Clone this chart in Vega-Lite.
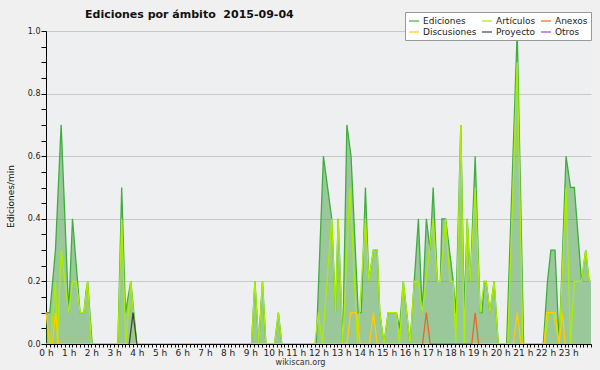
{
  "$schema": "https://vega.github.io/schema/vega-lite/v6.json",
  "width": 545,
  "height": 313,
  "autosize": {"type": "none"},
  "padding": {"left": 46, "top": 31, "right": 9, "bottom": 26},
  "background": "#f0f0f0",
  "config": {
    "view": {"stroke": null, "fill": "#eeeff1"},
    "font": "DejaVu Sans",
    "title": {"dx": 39}
  },
  "title": {
    "text": "Ediciones por ámbito\u00a0 2015-09-04",
    "anchor": "start",
    "frame": "group",
    "dx": 39,
    "fontSize": 11,
    "fontWeight": "bold",
    "color": "#111111",
    "baseline": "alphabetic",
    "offset": -17
  },
  "datasets": {
    "series": [
      {"serie":"Ediciones","min":0,"v":0.1},{"serie":"Ediciones","min":10,"v":0.1},{"serie":"Ediciones","min":25,"v":0.3},{"serie":"Ediciones","min":40,"v":0.7},{"serie":"Ediciones","min":60,"v":0.1},{"serie":"Ediciones","min":70,"v":0.4},{"serie":"Ediciones","min":90,"v":0.1},{"serie":"Ediciones","min":100,"v":0.1},{"serie":"Ediciones","min":106,"v":0.17},{"serie":"Ediciones","min":110,"v":0.2},{"serie":"Ediciones","min":122,"v":0},
      {"serie":"Ediciones","min":190,"v":0},{"serie":"Ediciones","min":200,"v":0.5},{"serie":"Ediciones","min":210,"v":0.1},{"serie":"Ediciones","min":224,"v":0.2},{"serie":"Ediciones","min":240,"v":0},
      {"serie":"Ediciones","min":543,"v":0},{"serie":"Ediciones","min":552,"v":0.2},{"serie":"Ediciones","min":562,"v":0},{"serie":"Ediciones","min":572,"v":0.2},{"serie":"Ediciones","min":581,"v":0},{"serie":"Ediciones","min":604,"v":0},{"serie":"Ediciones","min":614,"v":0.1},{"serie":"Ediciones","min":623,"v":0},
      {"serie":"Ediciones","min":714,"v":0},{"serie":"Ediciones","min":733,"v":0.6},{"serie":"Ediciones","min":755,"v":0.4},{"serie":"Ediciones","min":765,"v":0.1},{"serie":"Ediciones","min":772,"v":0.4},{"serie":"Ediciones","min":784,"v":0},{"serie":"Ediciones","min":795,"v":0.7},{"serie":"Ediciones","min":806,"v":0.6},{"serie":"Ediciones","min":825,"v":0.1},{"serie":"Ediciones","min":833,"v":0.1},{"serie":"Ediciones","min":844,"v":0.5},{"serie":"Ediciones","min":853,"v":0.2},{"serie":"Ediciones","min":865,"v":0.3},{"serie":"Ediciones","min":875,"v":0.3},{"serie":"Ediciones","min":882,"v":0.1},{"serie":"Ediciones","min":893,"v":0},{"serie":"Ediciones","min":904,"v":0.1},{"serie":"Ediciones","min":926,"v":0.1},{"serie":"Ediciones","min":934,"v":0.05},{"serie":"Ediciones","min":944,"v":0.2},{"serie":"Ediciones","min":962,"v":0},{"serie":"Ediciones","min":973,"v":0.2},{"serie":"Ediciones","min":984,"v":0.4},{"serie":"Ediciones","min":994,"v":0.1},{"serie":"Ediciones","min":1005,"v":0.4},{"serie":"Ediciones","min":1015,"v":0.3},{"serie":"Ediciones","min":1023,"v":0.5},{"serie":"Ediciones","min":1034,"v":0.2},{"serie":"Ediciones","min":1042,"v":0.2},{"serie":"Ediciones","min":1046,"v":0.4},{"serie":"Ediciones","min":1056,"v":0.4},{"serie":"Ediciones","min":1076,"v":0.2},{"serie":"Ediciones","min":1083,"v":0.1},{"serie":"Ediciones","min":1096,"v":0.7},{"serie":"Ediciones","min":1105,"v":0.1},{"serie":"Ediciones","min":1113,"v":0.4},{"serie":"Ediciones","min":1121,"v":0.2},{"serie":"Ediciones","min":1134,"v":0.6},{"serie":"Ediciones","min":1147,"v":0.1},{"serie":"Ediciones","min":1152,"v":0.1},{"serie":"Ediciones","min":1158,"v":0.2},{"serie":"Ediciones","min":1163,"v":0.2},{"serie":"Ediciones","min":1173,"v":0.1},{"serie":"Ediciones","min":1184,"v":0.2},{"serie":"Ediciones","min":1195,"v":0},
      {"serie":"Ediciones","min":1217,"v":0},{"serie":"Ediciones","min":1245,"v":1.0},{"serie":"Ediciones","min":1262,"v":0},
      {"serie":"Ediciones","min":1314,"v":0},{"serie":"Ediciones","min":1325,"v":0.2},{"serie":"Ediciones","min":1334,"v":0.3},{"serie":"Ediciones","min":1345,"v":0.3},{"serie":"Ediciones","min":1356,"v":0},{"serie":"Ediciones","min":1374,"v":0.6},{"serie":"Ediciones","min":1386,"v":0.5},{"serie":"Ediciones","min":1396,"v":0.5},{"serie":"Ediciones","min":1415,"v":0.2},{"serie":"Ediciones","min":1426,"v":0.3},{"serie":"Ediciones","min":1435,"v":0.2},{"serie":"Ediciones","min":1440,"v":0.2},

      {"serie":"Artículos","min":0,"v":0},{"serie":"Artículos","min":12,"v":0},{"serie":"Artículos","min":25,"v":0.2},{"serie":"Artículos","min":30,"v":0},{"serie":"Artículos","min":40,"v":0.3},{"serie":"Artículos","min":60,"v":0.1},{"serie":"Artículos","min":70,"v":0.2},{"serie":"Artículos","min":80,"v":0.2},{"serie":"Artículos","min":90,"v":0.1},{"serie":"Artículos","min":100,"v":0.1},{"serie":"Artículos","min":110,"v":0.2},{"serie":"Artículos","min":120,"v":0},
      {"serie":"Artículos","min":190,"v":0},{"serie":"Artículos","min":200,"v":0.4},{"serie":"Artículos","min":211,"v":0},{"serie":"Artículos","min":224,"v":0.2},{"serie":"Artículos","min":238,"v":0},
      {"serie":"Artículos","min":543,"v":0},{"serie":"Artículos","min":552,"v":0.2},{"serie":"Artículos","min":562,"v":0},{"serie":"Artículos","min":572,"v":0.2},{"serie":"Artículos","min":581,"v":0},{"serie":"Artículos","min":604,"v":0},{"serie":"Artículos","min":614,"v":0.1},{"serie":"Artículos","min":623,"v":0},
      {"serie":"Artículos","min":710,"v":0},{"serie":"Artículos","min":720,"v":0.1},{"serie":"Artículos","min":730,"v":0},{"serie":"Artículos","min":755,"v":0.4},{"serie":"Artículos","min":765,"v":0.1},{"serie":"Artículos","min":772,"v":0.4},{"serie":"Artículos","min":784,"v":0},{"serie":"Artículos","min":803,"v":0.5},{"serie":"Artículos","min":823,"v":0},{"serie":"Artículos","min":844,"v":0.4},{"serie":"Artículos","min":853,"v":0.2},{"serie":"Artículos","min":865,"v":0.3},{"serie":"Artículos","min":875,"v":0.3},{"serie":"Artículos","min":882,"v":0.1},{"serie":"Artículos","min":893,"v":0},{"serie":"Artículos","min":904,"v":0.1},{"serie":"Artículos","min":926,"v":0.1},{"serie":"Artículos","min":934,"v":0},{"serie":"Artículos","min":944,"v":0.2},{"serie":"Artículos","min":962,"v":0},{"serie":"Artículos","min":973,"v":0.2},{"serie":"Artículos","min":984,"v":0.2},{"serie":"Artículos","min":994,"v":0.1},{"serie":"Artículos","min":1023,"v":0.4},{"serie":"Artículos","min":1034,"v":0.2},{"serie":"Artículos","min":1042,"v":0.2},{"serie":"Artículos","min":1056,"v":0.4},{"serie":"Artículos","min":1067,"v":0.2},{"serie":"Artículos","min":1076,"v":0.2},{"serie":"Artículos","min":1083,"v":0},{"serie":"Artículos","min":1096,"v":0.7},{"serie":"Artículos","min":1105,"v":0},{"serie":"Artículos","min":1113,"v":0.4},{"serie":"Artículos","min":1121,"v":0.2},{"serie":"Artículos","min":1134,"v":0.5},{"serie":"Artículos","min":1147,"v":0.1},{"serie":"Artículos","min":1158,"v":0.2},{"serie":"Artículos","min":1163,"v":0.2},{"serie":"Artículos","min":1173,"v":0.1},{"serie":"Artículos","min":1184,"v":0.2},{"serie":"Artículos","min":1195,"v":0},
      {"serie":"Artículos","min":1220,"v":0},{"serie":"Artículos","min":1245,"v":0.9},{"serie":"Artículos","min":1260,"v":0},
      {"serie":"Artículos","min":1318,"v":0},{"serie":"Artículos","min":1328,"v":0.1},{"serie":"Artículos","min":1340,"v":0.1},{"serie":"Artículos","min":1356,"v":0},{"serie":"Artículos","min":1374,"v":0.5},{"serie":"Artículos","min":1386,"v":0},{"serie":"Artículos","min":1396,"v":0.2},{"serie":"Artículos","min":1415,"v":0.2},{"serie":"Artículos","min":1426,"v":0.3},{"serie":"Artículos","min":1435,"v":0.2},{"serie":"Artículos","min":1440,"v":0.2},

      {"serie":"Discusiones","min":0,"v":0.1},{"serie":"Discusiones","min":10,"v":0},{"serie":"Discusiones","min":17,"v":0},{"serie":"Discusiones","min":25,"v":0.1},{"serie":"Discusiones","min":33,"v":0},{"serie":"Discusiones","min":795,"v":0},{"serie":"Discusiones","min":805,"v":0.1},{"serie":"Discusiones","min":820,"v":0.1},{"serie":"Discusiones","min":830,"v":0},{"serie":"Discusiones","min":855,"v":0},{"serie":"Discusiones","min":865,"v":0.1},{"serie":"Discusiones","min":875,"v":0},{"serie":"Discusiones","min":1235,"v":0},{"serie":"Discusiones","min":1245,"v":0.1},{"serie":"Discusiones","min":1255,"v":0},{"serie":"Discusiones","min":1316,"v":0},{"serie":"Discusiones","min":1323,"v":0.1},{"serie":"Discusiones","min":1345,"v":0.1},{"serie":"Discusiones","min":1356,"v":0},{"serie":"Discusiones","min":1364,"v":0.1},{"serie":"Discusiones","min":1372,"v":0},

      {"serie":"Anexos","min":995,"v":0},{"serie":"Anexos","min":1005,"v":0.1},{"serie":"Anexos","min":1015,"v":0},{"serie":"Anexos","min":1125,"v":0},{"serie":"Anexos","min":1134,"v":0.1},{"serie":"Anexos","min":1143,"v":0},

      {"serie":"Proyecto","min":220,"v":0},{"serie":"Proyecto","min":230,"v":0.1},{"serie":"Proyecto","min":240,"v":0}
    ]
  },
  "data": {"name": "series"},
  "encoding": {
    "x": {
      "field": "min",
      "type": "quantitative",
      "scale": {"domain": [0, 1440], "nice": false, "zero": false},
      "axis": {
        "values": [0,10,20,30,40,50,60,70,80,90,100,110,120,130,140,150,160,170,180,190,200,210,220,230,240,250,260,270,280,290,300,310,320,330,340,350,360,370,380,390,400,410,420,430,440,450,460,470,480,490,500,510,520,530,540,550,560,570,580,590,600,610,620,630,640,650,660,670,680,690,700,710,720,730,740,750,760,770,780,790,800,810,820,830,840,850,860,870,880,890,900,910,920,930,940,950,960,970,980,990,1000,1010,1020,1030,1040,1050,1060,1070,1080,1090,1100,1110,1120,1130,1140,1150,1160,1170,1180,1190,1200,1210,1220,1230,1240,1250,1260,1270,1280,1290,1300,1310,1320,1330,1340,1350,1360,1370,1380,1390,1400,1410,1420,1430,1440],
        "labelExpr": "(datum.value % 60 == 0 && datum.value < 1440) ? (datum.value / 60) + ' h' : ''",
        "labelOverlap": false,
        "labelFlush": false,
        "labelBound": false,
        "labelFontSize": 9,
        "labelColor": "#222222",
        "labelPadding": 1,
        "tickSize": 3,
        "tickColor": "#000000",
        "domainColor": "#000000",
        "grid": false,
        "zindex": 1,
        "title": "wikiscan.org",
        "titleFontSize": 8,
        "titleFontWeight": "normal",
        "titleColor": "#333333",
        "titleX": 254,
        "titleY": 20,
        "titleAlign": "center",
        "titleBaseline": "alphabetic"
      }
    },
    "y": {
      "field": "v",
      "type": "quantitative",
      "scale": {"domain": [0, 1], "nice": false},
      "axis": {
        "values": [0,0.05,0.1,0.15,0.2,0.25,0.3,0.35,0.4,0.45,0.5,0.55,0.6,0.65,0.7,0.75,0.8,0.85,0.9,0.95,1.0],
        "labelExpr": "round(datum.value*20) % 4 == 0 ? format(datum.value, '.1f') : ''",
        "labelFontSize": 8,
        "labelColor": "#222222",
        "labelPadding": 1,
        "tickSize": 5,
        "tickColor": "#000000",
        "domainColor": "#000000",
        "grid": true,
        "gridColor": "#c8c8c8",
        "gridOpacity": {"condition": {"test": "round(datum.value*20) % 4 == 0", "value": 1}, "value": 0},
        "title": "Ediciones/min",
        "titleFontSize": 9,
        "titleFontWeight": "normal",
        "titleColor": "#111111",
        "titleX": -36,
        "titleY": 165,
        "titleAngle": -90,
        "titleAlign": "center",
        "titleBaseline": "middle"
      }
    }
  },
  "layer": [
    {
      "transform": [{"filter": "datum.serie == 'Ediciones'"}],
      "mark": {"type": "area", "color": "#339933", "opacity": 0.45}
    },
    {
      "transform": [{"filter": "datum.serie == 'Ediciones'"}],
      "mark": {"type": "line", "strokeWidth": 1.3},
      "encoding": {
        "color": {
          "field": "serie",
          "type": "nominal",
          "scale": {
            "domain": ["Ediciones", "Artículos", "Anexos", "Discusiones", "Proyecto", "Otros"],
            "range": ["#3fae3f", "#aaee00", "#ee6622", "#ffcc00", "#444444", "#9944ee"]
          },
          "legend": {
            "title": null,
            "orient": "none",
            "legendX": 359,
            "legendY": -19,
            "columns": 3,
            "direction": "horizontal",
            "symbolType": "stroke",
            "symbolSize": 100,
            "symbolStrokeWidth": 1.2,
            "labelFontSize": 9,
            "labelColor": "#222222",
            "labelOffset": 3,
            "columnPadding": 2,
            "rowPadding": 0,
            "padding": 3,
            "fillColor": "#ffffff",
            "strokeColor": "#999999"
          }
        }
      }
    },
    {
      "transform": [{"filter": "datum.serie != 'Ediciones'"}],
      "mark": {"type": "line", "strokeWidth": 1.3},
      "encoding": {
        "color": {"field": "serie", "type": "nominal"}
      }
    },
    {
      "data": {"values": [{"t": "CC BY-SA 3.0"}]},
      "mark": {"type": "text", "align": "right", "baseline": "alphabetic", "dx": -2, "fontSize": 6, "color": "#333333"},
      "encoding": {
        "x": {"datum": 1440, "type": "quantitative"},
        "y": {"datum": -0.0655, "type": "quantitative"},
        "text": {"field": "t", "type": "nominal"}
      }
    }
  ]
}
